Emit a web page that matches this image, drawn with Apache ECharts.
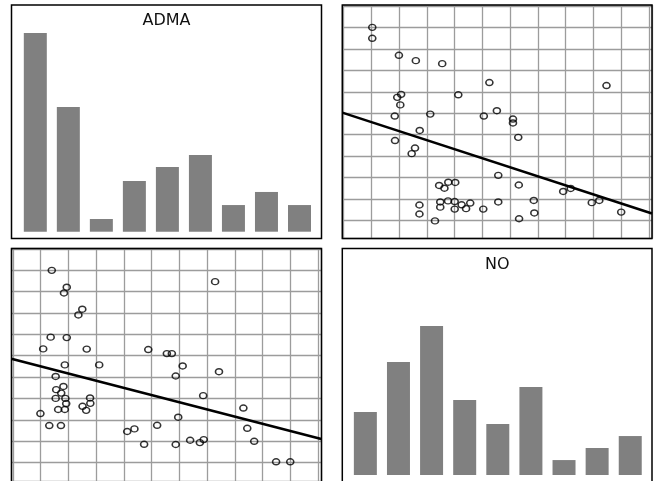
<!DOCTYPE html>
<html><head><meta charset="utf-8">
<script src="https://cdn.jsdelivr.net/npm/echarts@6/dist/echarts.min.js"></script>
<style>html,body{margin:0;padding:0;background:#fff}#c{width:655px;height:481px}</style>
</head><body><div id="c"></div>
<script>
// paired observations (grid units)
const admaVals = [0.40,6.29,0.94,0.84,1.50,1.36,0.36,0.94,0.09,1.66,3.88,4.55,4.73,0.87,2.11,5.12,6.43,0.54,4.87,0.82,0.56,0.74,0.54,0.89,1.78,0.92,1.79,1.51,5.86,0.63,0.87,1.64,-0.01,7.31,4.96,0.31,0.73,4.20,3.12,3.38,7.45,3.73,4.87,5.39,5.74,5.88,7.70,8.49,9.00];
const noVals   = [9.00,8.47,8.21,7.94,7.18,6.91,5.87,5.85,5.32,5.31,5.29,5.10,5.10,4.57,4.57,4.52,4.25,4.03,4.05,3.56,3.41,3.25,3.00,3.00,3.02,2.76,2.77,2.63,3.13,2.48,2.48,2.44,2.29,2.55,2.12,1.73,1.73,1.74,1.45,1.57,1.60,0.85,0.84,1.04,0.93,1.07,0.99,0.03,0.03];
// histogram bins
const binLabels = ['1','2','3','4','5','6','7','8','9'];
const admaCounts = [15.96,10.01,1.02,4.07,5.19,6.16,2.14,3.19,2.14];
const noCounts   = [5.06,9.08,11.97,6.02,4.10,7.07,1.20,2.17,3.13];
// fitted lines (end points)
const fitAdmaOnNo = [[-1.05,5.03],[10.11,0.33]];   // x = NO, y = ADMA
const fitNoOnAdma = [[-1.06,4.86],[10.12,1.10]];   // x = ADMA, y = NO
const titles = ['ADMA','NO'];

const chart = echarts.init(document.getElementById('c'));
const grayLine = {show:true, lineStyle:{color:'#9c9c9c', width:1.3}};
const hid = {axisLabel:{show:false}, axisTick:{show:false}, axisLine:{show:false}};
function valAxis(gi, min, max){
  return Object.assign({type:'value', gridIndex:gi, min:min, max:max, splitNumber:11,
    minInterval:1, maxInterval:1, splitLine:grayLine}, hid);
}
const ptStyle = {color:'transparent', borderColor:'#000', borderWidth:1.5};
const option = {
  animation:false,
  grid:[
    {left:18.8, top:5, width:297.2, height:226.7},
    {left:342.3, top:5, width:309.7, height:233.5},
    {left:11.3, top:248.6, width:310, height:233.5},
    {left:348.8, top:248.5, width:298, height:226.5}
  ],
  xAxis:[
    Object.assign({type:'category', gridIndex:0, data:binLabels, splitLine:{show:false}}, hid),
    valAxis(1, -1.05, 10.11),
    valAxis(2, -1.06, 10.12),
    Object.assign({type:'category', gridIndex:3, data:binLabels, splitLine:{show:false}}, hid)
  ],
  yAxis:[
    Object.assign({type:'value', gridIndex:0, min:0, max:18.2, splitLine:{show:false}}, hid),
    valAxis(1, -0.83, 10.04),
    valAxis(2, -0.87, 10.02),
    Object.assign({type:'value', gridIndex:3, min:0, max:18.2, splitLine:{show:false}}, hid)
  ],
  series:[
    {type:'bar', xAxisIndex:0, yAxisIndex:0, data:admaCounts, barWidth:23, itemStyle:{color:'#808080'}},
    {type:'scatter', xAxisIndex:1, yAxisIndex:1, data:noVals.map((n,i)=>[n, admaVals[i]]),
      symbol:'circle', symbolSize:[7,6], itemStyle:ptStyle},
    {type:'line', xAxisIndex:1, yAxisIndex:1, data:fitAdmaOnNo, symbol:'none',
      lineStyle:{color:'#000', width:2.6}},
    {type:'scatter', xAxisIndex:2, yAxisIndex:2, data:admaVals.map((a,i)=>[a, noVals[i]]),
      symbol:'circle', symbolSize:[7,6], itemStyle:ptStyle},
    {type:'line', xAxisIndex:2, yAxisIndex:2, data:fitNoOnAdma, symbol:'none',
      lineStyle:{color:'#000', width:2.6}},
    {type:'bar', xAxisIndex:3, yAxisIndex:3, data:noCounts, barWidth:23, itemStyle:{color:'#808080'}}
  ],
  graphic:[
    {type:'rect', z:100, shape:{x:11.5, y:5, width:310, height:233.5}, style:{fill:'none', stroke:'#000', lineWidth:1.5}},
    {type:'rect', z:100, shape:{x:342.3, y:5, width:309.7, height:233.5}, style:{fill:'none', stroke:'#000', lineWidth:1.5}},
    {type:'rect', z:100, shape:{x:11.5, y:248.6, width:310, height:240}, style:{fill:'none', stroke:'#000', lineWidth:1.5}},
    {type:'rect', z:100, shape:{x:342.3, y:248.6, width:309.7, height:240}, style:{fill:'none', stroke:'#000', lineWidth:1.5}},
    {type:'text', z:100, x:166.5, y:21, style:{text:titles[0], font:'16px "DejaVu Sans"', fill:'#111', textAlign:'center', textVerticalAlign:'middle'}},
    {type:'text', z:100, x:497.2, y:264.5, style:{text:titles[1], font:'16px "DejaVu Sans"', fill:'#111', textAlign:'center', textVerticalAlign:'middle'}}
  ]
};
chart.setOption(option);
</script></body></html>
